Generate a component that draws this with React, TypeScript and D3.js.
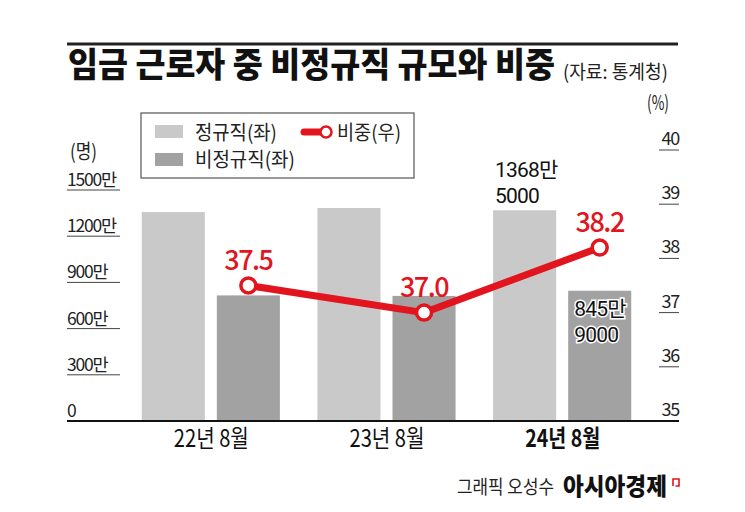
import React, { useLayoutEffect, useRef, useState } from "react";
import * as d3 from "d3";

// Data (unit: 만 명 / %)
const categories = ["22년 8월", "23년 8월", "24년 8월"];
const regular = [1356.8, 1383.2, 1368.5];
const nonRegular = [815.6, 812.2, 845.9];
const share = [37.5, 37.0, 38.2];
const leftTicks = [0, 300, 600, 900, 1200, 1500];
const rightTicks = [35, 36, 37, 38, 39, 40];

const FONT = "'Noto Sans CJK KR', 'Noto Sans', sans-serif";
const NUM_FONT = "Roboto, 'Noto Sans CJK KR', sans-serif";
const RED = "#e2141d";
const LIGHT = "#c9c9c9";
const DARK = "#a2a2a2";

// split a value in 만 into "1368만" / "5000"
const splitMan = (v: number) => {
  const man = Math.floor(v);
  const rest = Math.round((v - man) * 10000);
  return [`${man}만`, `${rest}`];
};

// text squeezed horizontally to a given width (the original uses a condensed face)
const Condensed = ({ x, y, width, children, ...rest }: any) => {
  const ref = useRef<SVGTextElement>(null);
  const [sx, setSx] = useState(1);
  useLayoutEffect(() => {
    if (!ref.current) return;
    const w = ref.current.getComputedTextLength();
    if (w > 0) setSx(width / w);
  }, [width, children]);
  return (
    <text ref={ref} transform={`translate(${x},${y}) scale(${sx},1)`} {...rest}>
      {children}
    </text>
  );
};

const App = () => {
  const width = 745;
  const height = 512;

  const x0 = d3
    .scaleBand()
    .domain(categories)
    .range([123, 650])
    .paddingInner(0.2137)
    .paddingOuter(0.1068);

  const x1 = d3
    .scaleBand()
    .domain(["reg", "non"])
    .range([0, x0.bandwidth()])
    .paddingInner(0.16);

  const yL = d3.scaleLinear().domain([0, 1500]).range([421, 190]);
  const yR = d3.scaleLinear().domain([35, 40]).range([421, 150]);

  const points = categories.map((c, i) => ({
    x: (x0(c) as number) + (x1("non") as number) + x1.bandwidth() / 2,
    y: yR(share[i]),
    v: share[i],
  }));

  const line = d3
    .line<{ x: number; y: number }>()
    .x((d) => d.x)
    .y((d) => d.y);

  const last = categories.length - 1;
  const lastCat = categories[last];
  const regLabel = splitMan(regular[last]);
  const nonLabel = splitMan(nonRegular[last]);
  const regX = (x0(lastCat) as number) + (x1("reg") as number) + 2;
  const nonX = (x0(lastCat) as number) + (x1("non") as number) + 6;

  return (
    <svg
      width={width}
      height={height}
      style={{ position: "absolute", left: 0, top: 0, background: "#fff", fontFamily: FONT }}
    >
      {/* top rule and title */}
      <line x1={67} x2={678} y1={44} y2={44} stroke="#222" strokeWidth={3} />
      <Condensed x={68} y={77} width={487} fontSize={34} fontWeight={900} fill="#111">
        임금 근로자 중 비정규직 규모와 비중
      </Condensed>
      <Condensed x={563} y={79} width={105} fontSize={19} fill="#222">
        (자료: 통계청)
      </Condensed>

      {/* axis units */}
      <Condensed x={70} y={159} width={27} fontSize={20} fill="#222">
        (명)
      </Condensed>
      <Condensed x={647} y={110} width={22} fontSize={20} fill="#222">
        (%)
      </Condensed>

      {/* left ticks */}
      {leftTicks.map((t) => (
        <g key={`l${t}`}>
          <text x={67} y={yL(t) - 4} fontSize={17.5} fill="#222" style={{ letterSpacing: "-1.2px" }}>
            {t === 0 ? "0" : `${t}만`}
          </text>
          {t > 0 && <line x1={67} x2={120} y1={yL(t)} y2={yL(t)} stroke="#444" strokeWidth={1} />}
        </g>
      ))}

      {/* right ticks */}
      {rightTicks.map((t) => (
        <g key={`r${t}`}>
          <text x={679} y={yR(t) - 5} fontSize={18} fill="#222" textAnchor="end" style={{ letterSpacing: "-1.3px" }}>
            {t}
          </text>
          {t > 35 && <line x1={659} x2={679} y1={yR(t)} y2={yR(t)} stroke="#444" strokeWidth={1} />}
        </g>
      ))}

      {/* bars */}
      {categories.map((c, i) => (
        <g key={c}>
          <rect
            x={(x0(c) as number) + (x1("reg") as number)}
            y={yL(regular[i])}
            width={x1.bandwidth()}
            height={yL(0) - yL(regular[i])}
            fill={LIGHT}
          />
          <rect
            x={(x0(c) as number) + (x1("non") as number)}
            y={yL(nonRegular[i])}
            width={x1.bandwidth()}
            height={yL(0) - yL(nonRegular[i])}
            fill={DARK}
          />
          <Condensed
            x={(x0(c) as number) + x0.bandwidth() / 2 - 37}
            y={447}
            width={75}
            fontSize={24}
            fontWeight={i === last ? 600 : 400}
            fill="#111"
          >
            {c}
          </Condensed>
        </g>
      ))}

      {/* baseline */}
      <line x1={67} x2={679} y1={421} y2={421} stroke="#111" strokeWidth={2} />

      {/* value annotations for latest period */}
      <g fontSize={21} fill="#111" fontFamily={NUM_FONT} style={{ letterSpacing: "-0.8px" }}>
        <text x={regX} y={yL(regular[last]) - 33}>
          {regLabel[0]}
        </text>
        <text x={regX} y={yL(regular[last]) - 7}>
          {regLabel[1]}
        </text>
        <g stroke="#fff" strokeWidth={3} style={{ paintOrder: "stroke" }}>
          <text x={nonX} y={yL(nonRegular[last]) + 25}>
            {nonLabel[0]}
          </text>
          <text x={nonX} y={yL(nonRegular[last]) + 51}>
            {nonLabel[1]}
          </text>
        </g>
      </g>

      {/* share line */}
      <path d={line(points) || ""} fill="none" stroke={RED} strokeWidth={7} />
      {points.map((p, i) => (
        <g key={`p${i}`}>
          <circle cx={p.x} cy={p.y} r={7.5} fill="#fff" stroke={RED} strokeWidth={3.5} />
          <text
            x={p.x}
            y={p.y - 16}
            fontSize={27}
            fontWeight={500}
            fill={RED}
            textAnchor="middle"
            style={{ letterSpacing: "-1.5px" }}
          >
            {p.v.toFixed(1)}
          </text>
        </g>
      ))}

      {/* legend */}
      <rect x={141} y={113} width={273} height={65} fill="#fff" stroke="#555" strokeWidth={1.2} />
      <rect x={155} y={125} width={28} height={13} fill={LIGHT} />
      <rect x={155} y={153} width={28} height={13} fill={DARK} />
      <Condensed x={195} y={140} width={82} fontSize={20} fill="#222">정규직(좌)</Condensed>
      <Condensed x={195} y={167} width={100} fontSize={20} fill="#222">비정규직(좌)</Condensed>
      <Condensed x={337} y={140} width={64} fontSize={20} fill="#222">비중(우)</Condensed>
      <line x1={304} x2={322} y1={132} y2={132} stroke={RED} strokeWidth={7} strokeLinecap="round" />
      <circle cx={326} cy={132} r={5.5} fill="#fff" stroke={RED} strokeWidth={2.5} />

      {/* credit */}
      <Condensed x={457} y={494} width={97} fontSize={19} fill="#222">
        그래픽 오성수
      </Condensed>
      <Condensed x={563} y={495} width={104} fontSize={24} fontWeight={900} fill="#111">
        아시아경제
      </Condensed>
      <path d="M673,486 V479 H679 V486 H675.5" fill="none" stroke={RED} strokeWidth={1.6} />
    </svg>
  );
};

export default App;
